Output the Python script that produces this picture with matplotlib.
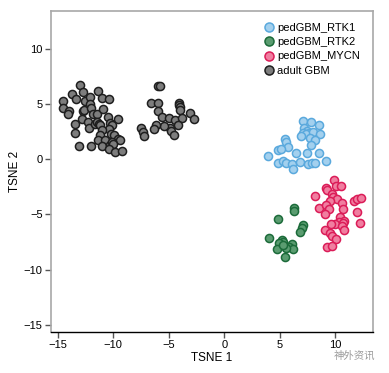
import matplotlib
matplotlib.use("Agg")
import matplotlib.pyplot as plt
from matplotlib.lines import Line2D

plt.rcParams['font.family'] = ['Liberation Sans', 'DejaVu Sans']

categories = ["pedGBM_RTK1", "pedGBM_RTK2", "pedGBM_MYCN", "adult GBM"]

rtk1_x = [7.07, 7.8, 8.5, 7.2, 7.43, 7.6, 7.1, 7.4, 8.0, 8.6, 6.9, 7.7, 8.2, 7.8,
          5.5, 5.57, 5.7, 4.87, 5.1, 3.97, 6.5, 7.5, 8.5, 4.87, 5.27, 5.57, 6.08,
          6.17, 6.8, 7.58, 7.88, 8.18, 9.14]
rtk1_y = [3.46, 3.37, 3.07, 2.77, 2.56, 2.38, 2.38, 2.26, 2.47, 2.26, 2.08, 1.87, 1.72, 1.27,
          1.78, 1.56, 1.11, 0.81, 0.88, 0.27, 0.57, 0.57, 0.51, -0.39, -0.15, -0.39, -0.45,
          -0.93, -0.24, -0.45, -0.33, -0.33, -0.15]

rtk2_x = [6.3, 6.3, 4.87, 7.13, 7.04, 6.83, 4.07, 5.18, 5.33, 4.96, 6.08, 5.86, 6.17,
          4.78, 5.57, 5.48, 5.27]
rtk2_y = [-4.4, -4.67, -5.42, -5.96, -6.26, -6.57, -7.17, -7.32, -7.47, -7.62, -7.68, -7.92, -8.16,
          -8.16, -8.07, -8.83, -7.77]

mycn_x = [9.9, 10.1, 10.5, 9.2, 9.3, 9.7, 8.2, 9.8, 10.2, 9.5, 10.6, 11.7, 12.0, 12.3,
          8.5, 9.2, 9.4, 10.7, 9.1, 12.0, 10.4, 10.8, 10.3, 10.7, 10.0, 9.6, 10.6, 10.8,
          12.2, 9.1, 9.5, 9.7, 10.1, 9.3, 9.7]
mycn_y = [-1.9, -2.4, -2.4, -2.65, -2.8, -3.16, -3.35, -3.46, -3.6, -3.77, -3.95, -3.8, -3.64, -3.5,
          -4.45, -4.15, -4.55, -4.55, -4.97, -4.8, -5.27, -5.57, -5.66, -5.8, -5.87, -5.87, -6.1, -6.4,
          -5.8, -6.4, -6.7, -7.0, -7.25, -7.98, -7.9]

adult_x = [-13.0, -12.75, -13.7, -14.5, -13.35, -12.5, -12.1, -11.4, -11.0, -10.35, -14.55, -14.0,
           -14.1, -12.7, -12.6, -12.1, -12.0, -11.8, -11.5, -10.9, -12.85, -13.45, -12.25, -12.15,
           -11.6, -11.5, -11.3, -11.2, -10.45, -9.55, -10.3, -10.1, -10.4, -11.0, -13.45, -11.2,
           -11.4, -10.2, -9.9, -9.6, -9.4, -10.75, -13.05, -12.0, -11.0, -10.3, -10.1, -10.0,
           -10.4, -9.8, -9.2,
           -6.0, -5.8, -6.6, -6.0, -4.05, -4.05, -4.0, -4.0, -6.0, -5.6, -4.95, -4.4, -3.8,
           -3.1, -2.7, -4.15, -4.9, -5.45, -6.15, -6.3, -4.75, -4.55, -7.5, -7.3, -7.2]
adult_y = [6.7, 6.1, 5.9, 5.3, 5.4, 5.3, 5.6, 6.2, 5.5, 5.45, 4.6, 4.35,
           4.05, 4.35, 4.45, 5.0, 4.65, 4.1, 4.05, 4.5, 3.6, 3.15, 3.35, 2.85,
           3.2, 3.35, 3.2, 3.05, 3.85, 3.65, 3.3, 3.05, 2.75, 2.6, 2.35, 2.15,
           1.7, 2.3, 2.15, 1.85, 1.7, 1.7, 1.15, 1.2, 1.15, 1.25, 1.55, 1.4,
           0.95, 0.65, 0.7,
           6.65, 6.6, 5.1, 5.1, 5.05, 4.9, 4.75, 4.4, 4.35, 3.85, 3.7, 3.5, 3.75,
           4.2, 3.6, 3.1, 2.85, 3.0, 3.05, 2.7, 2.5, 2.15, 2.85, 2.45, 2.1]

xticks = [-15, -10, -5, 0, 5, 10]
yticks = [-15, -10, -5, 0, 5, 10]

series = [
    (rtk1_x, rtk1_y, "#a3d0ee", "#5aa9dd"),
    (rtk2_x, rtk2_y, "#5a9c70", "#1c6b3a"),
    (mycn_x, mycn_y, "#f07ea0", "#db1c58"),
    (adult_x, adult_y, "#7d7d7d", "#1e1e1e"),
]

fig = plt.figure(figsize=(3.89, 3.73), dpi=100)
ax = fig.add_axes([51/389, 41/373, 322/389, 321/373])

for (xs, ys, fc, ec), name in zip(series, categories):
    ax.scatter(xs, ys, s=34, facecolor=fc, edgecolor=ec, linewidth=1.1, label=name, zorder=3)

ax.set_xlim(-15.6, 13.4)
ax.set_ylim(-15.65, 13.4)
ax.set_xticks(xticks)
ax.set_yticks(yticks)
ax.set_xticklabels(["\u221215", "\u221210", "\u22125", "0", "5", "10"])
ax.set_yticklabels(["\u221215", "\u221210", "\u22125", "0", "5", "10"])
ax.tick_params(axis='both', direction='out', length=4, width=1, labelsize=8, color="#555555", pad=2)

for side in ['left', 'top', 'right']:
    ax.spines[side].set_color("#a8a8a8")
    ax.spines[side].set_linewidth(1.2)
ax.spines['bottom'].set_color("#000000")
ax.spines['bottom'].set_linewidth(1.0)

ax.set_xlabel("TSNE 1", fontsize=8.5, labelpad=1)
ax.set_ylabel("TSNE 2", fontsize=8.5, labelpad=2)

handles = [Line2D([0], [0], marker='o', linestyle='none', markersize=6.5,
                  markerfacecolor=fc, markeredgecolor=ec, markeredgewidth=1.1)
           for (_, _, fc, ec) in series]
ax.legend(handles, categories, loc='upper right', frameon=False, fontsize=8,
          handletextpad=0.2, labelspacing=0.4, borderaxespad=0.5, handlelength=1.0,
          bbox_to_anchor=(0.99, 0.995))

fig.text(0.965, 0.045, "神外资讯", ha='right', va='center', fontsize=7.5, color="#9a9a9a",
         family=['Noto Sans CJK SC', 'DejaVu Sans'])

fig.savefig("out.png", dpi=100)
